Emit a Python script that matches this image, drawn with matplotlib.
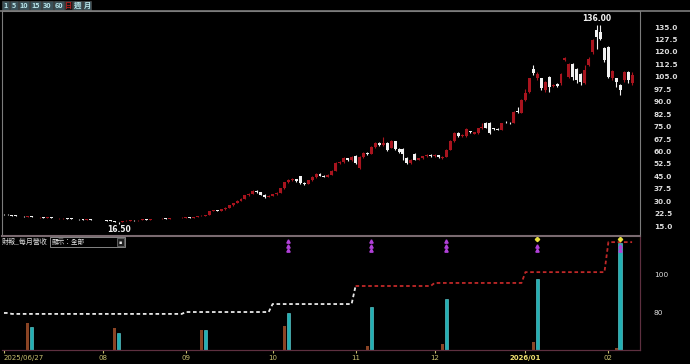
import numpy as np
import pandas as pd
import matplotlib
matplotlib.use('Agg')
import matplotlib.pyplot as plt
from matplotlib.patches import Rectangle

CJK = ['Noto Sans CJK TC', 'DejaVu Sans']

# daily candles (open / high / low / close)
opens = [22.3, 21.9, 21.5, 21.2, 20.9, 21.0, 20.7, 20.9, 20.6, 20.2,
         20.3, 20.0, 20.2, 19.9, 19.6, 19.6, 19.8, 19.5, 19.1, 19.2,
         19.0, 18.8, 19.0, 18.8, 18.5, 18.7, 18.5, 18.3, 18.0, 17.5,
         17.4, 17.9, 18.2, 18.5, 18.4, 18.7, 19.0, 18.8, 19.1, 19.3,
         19.2, 19.5, 19.4, 19.7, 19.9, 19.8, 20.0, 20.2, 20.1, 20.5,
         20.9, 21.3, 21.7, 24.0, 24.5, 24.2, 25.1, 25.9, 27.4, 28.9,
         30.2, 31.3, 33.7, 34.6, 36.1, 35.5, 33.8, 32.5, 33.2, 34.3,
         35.0, 37.9, 41.5, 42.6, 43.3, 45.0, 41.2, 40.3, 42.7, 44.5,
         46.4, 45.2, 44.6, 45.8, 48.5, 53.0, 53.6, 56.0, 54.8, 57.2,
         50.0, 56.6, 59.0, 58.4, 62.6, 65.0, 63.8, 65.0, 62.0, 66.2,
         61.5, 61.5, 56.0, 53.0, 58.4, 55.0, 55.8, 57.0, 57.8, 57.0,
         57.8, 56.0, 56.6, 60.8, 66.2, 71.0, 69.3, 69.5, 72.2, 70.8,
         71.0, 74.0, 77.0, 77.1, 74.0, 73.8, 73.0, 77.9, 77.3, 77.1,
         84.2, 83.2, 91.0, 96.0, 109.5, 104.0, 104.0, 97.0, 105.0, 99.5,
         100.5, 101.0, 115.0, 105.0, 113.0, 110.0, 107.0, 101.0, 112.0, 120.0,
         133.0, 132.0, 122.5, 123.0, 104.0, 104.0, 100.0, 103.0, 108.0, 101.0]
highs = [22.5, 22.0, 21.7, 21.4, 21.2, 21.1, 21.0, 21.0, 20.7, 20.5,
         20.4, 20.3, 20.3, 20.0, 19.9, 19.9, 19.9, 19.6, 19.4, 19.3,
         19.1, 19.2, 19.1, 18.9, 18.9, 18.8, 18.6, 18.4, 18.1, 17.6,
         18.0, 18.4, 18.6, 18.7, 18.9, 19.1, 19.1, 19.3, 19.5, 19.4,
         19.6, 19.7, 19.8, 20.1, 20.0, 20.2, 20.4, 20.3, 20.6, 21.0,
         21.5, 21.8, 24.3, 24.9, 24.8, 25.4, 26.2, 27.7, 29.2, 30.6,
         31.8, 34.0, 35.2, 36.5, 36.8, 35.8, 34.1, 33.6, 34.6, 35.4,
         38.2, 41.8, 43.2, 44.0, 43.6, 45.4, 41.8, 43.0, 44.9, 47.2,
         46.7, 45.6, 46.2, 48.9, 53.4, 54.2, 56.5, 56.3, 57.0, 58.0,
         57.0, 59.5, 59.6, 63.0, 65.6, 65.4, 68.5, 65.4, 66.8, 66.5,
         61.9, 62.0, 56.4, 55.4, 58.8, 56.3, 57.5, 58.3, 58.2, 58.2,
         58.0, 57.2, 61.2, 66.6, 71.5, 72.0, 70.4, 74.2, 72.6, 72.0,
         74.4, 77.4, 77.6, 77.5, 74.3, 74.1, 77.4, 78.3, 77.6, 84.2,
         86.5, 91.5, 97.5, 104.5, 112.0, 107.8, 104.5, 102.6, 105.6, 100.8,
         101.0, 107.5, 116.8, 113.5, 113.5, 110.5, 107.5, 112.0, 117.0, 128.0,
         136.0, 136.0, 123.0, 123.5, 109.0, 104.5, 100.5, 108.5, 108.5, 108.0]
lows = [21.8, 21.5, 21.2, 21.0, 20.8, 20.7, 20.6, 20.5, 20.3, 20.1,
        20.0, 19.9, 19.8, 19.6, 19.5, 19.5, 19.4, 19.2, 19.0, 18.9,
        18.7, 18.7, 18.6, 18.5, 18.4, 18.4, 18.1, 17.8, 17.4, 16.5,
        17.2, 17.8, 18.1, 18.2, 18.3, 18.6, 18.7, 18.7, 19.0, 19.0,
        19.1, 19.3, 19.3, 19.6, 19.6, 19.7, 19.9, 19.9, 20.0, 20.4,
        20.8, 21.1, 21.6, 23.8, 23.9, 24.0, 24.9, 25.7, 27.2, 28.7,
        30.0, 31.1, 33.4, 34.3, 35.0, 33.5, 32.2, 32.3, 33.0, 34.0,
        34.8, 37.6, 41.2, 42.3, 41.8, 40.5, 39.8, 40.1, 42.4, 44.2,
        44.9, 44.3, 44.4, 45.5, 48.3, 52.5, 53.3, 54.4, 54.5, 52.5,
        49.5, 56.3, 58.0, 58.2, 62.3, 63.3, 63.5, 60.4, 61.8, 61.0,
        59.0, 55.0, 52.5, 52.7, 54.7, 54.8, 55.5, 56.8, 56.6, 56.8,
        56.2, 55.5, 56.4, 60.6, 65.8, 69.0, 68.9, 68.7, 71.0, 70.4,
        70.8, 73.7, 73.9, 70.8, 72.9, 72.8, 72.8, 77.1, 76.4, 76.9,
        83.2, 83.0, 90.5, 95.5, 106.0, 103.0, 97.0, 96.0, 96.0, 99.0,
        99.0, 100.0, 114.5, 104.0, 103.0, 101.0, 100.0, 100.5, 111.5, 119.0,
        122.0, 127.0, 114.0, 104.0, 103.0, 99.0, 94.0, 102.0, 101.0, 100.0]
closes = [22.0, 21.6, 21.3, 21.1, 21.0, 20.8, 20.9, 20.6, 20.4, 20.3,
          20.1, 20.2, 19.9, 19.8, 19.7, 19.8, 19.5, 19.3, 19.2, 19.0,
          18.9, 19.0, 18.8, 18.6, 18.7, 18.5, 18.3, 18.0, 17.6, 17.3,
          17.8, 18.2, 18.5, 18.4, 18.7, 19.0, 18.8, 19.1, 19.3, 19.2,
          19.5, 19.4, 19.7, 19.9, 19.8, 20.0, 20.2, 20.1, 20.5, 20.9,
          21.3, 21.6, 24.0, 24.5, 24.2, 25.1, 25.9, 27.4, 28.9, 30.2,
          31.3, 33.7, 34.6, 36.1, 35.5, 33.8, 32.5, 33.2, 34.3, 35.0,
          37.9, 41.5, 42.6, 43.3, 42.1, 40.8, 40.3, 42.7, 44.5, 46.4,
          45.2, 44.6, 45.8, 48.5, 53.0, 53.6, 56.0, 54.8, 56.6, 52.9,
          56.6, 59.0, 58.4, 62.6, 65.0, 63.8, 65.0, 60.8, 66.2, 61.5,
          59.6, 58.4, 53.0, 55.0, 55.0, 55.8, 57.0, 57.8, 57.0, 57.8,
          56.6, 56.6, 60.8, 66.2, 71.0, 69.3, 69.8, 73.5, 71.5, 71.6,
          74.0, 74.6, 74.2, 71.2, 73.3, 73.2, 77.0, 77.5, 76.9, 83.8,
          83.6, 91.0, 95.5, 104.0, 107.1, 107.0, 98.0, 102.0, 99.0, 100.3,
          99.6, 107.0, 116.3, 113.0, 105.0, 103.0, 102.0, 109.0, 116.0, 127.0,
          129.0, 128.0, 115.0, 105.0, 108.5, 102.0, 97.0, 108.0, 103.0, 106.0]

# monthly revenue panel
line_months = ['2025-06', '2025-07', '2025-08', '2025-09', '2025-10',
               '2025-11', '2025-12', '2026-01', '2026-02']
line_values = [79.5, 79.0, 79.0, 80.0, 84.2, 93.7, 95.3, 101.0, 116.8]
bar_day = [6, 28, 50, 71, 92, 111, 134, 155]
bar_prev = [27, 22, 20, 24, 4, 6, 8, 2]
bar_curr = [23, 17, 20, 37, 43, 51, 71, 107]
arrow_day = [72, 93, 112]
star_day = [135, 156]

holidays = ['2025-10-06', '2025-10-10', '2026-01-01']
dates = pd.bdate_range('2025-06-27', '2026-02-10')
dates = dates[~dates.isin(pd.to_datetime(holidays))][:len(closes)]
n = len(closes)
x = np.arange(n)

W, H = 690, 364
fig = plt.figure(figsize=(W / 100, H / 100), dpi=100, facecolor='black')


def fx(px):
    return px / W


def fy(py):
    return 1 - py / H


ax = fig.add_axes([fx(2), fy(236), fx(638), 225 / H], facecolor='black')
ax2 = fig.add_axes([fx(2), fy(350), fx(638), 113 / H], facecolor='black')
ax3 = ax2.twinx()

red = '#a8141e'
white = '#f2f2f2'
o = np.array(opens)
c = np.array(closes)
up = c >= o
cols = np.where(up, red, white)
ax.vlines(x, lows, highs, colors=cols, lw=0.8, zorder=2)
body = np.maximum(np.abs(c - o), 0.35)
ax.bar(x, body, bottom=np.minimum(o, c), width=0.75, color=cols, zorder=3)

hi_i = int(np.argmax(highs))
lo_i = int(np.argmin(lows))
ax.text(hi_i, highs[hi_i] + 1.5, '%.2f' % highs[hi_i], color=white,
        fontsize=5.5, ha='center', va='bottom', fontweight='bold')
ax.text(lo_i, lows[lo_i] - 0.8, '%.2f' % lows[lo_i], color=white,
        fontsize=5.5, ha='center', va='top', fontweight='bold')

ax.set_xlim(-0.5, 161)
ax.set_ylim(9.0, 144.7)
ax.yaxis.tick_right()
ticks = np.arange(15, 136, 7.5)
ax.set_yticks(ticks)
ax.set_yticklabels(['%.1f' % t for t in ticks])
ax.tick_params(axis='y', length=0, pad=10, labelsize=5.3, labelcolor='#dcdcdc')
for t in ax.get_yticklabels():
    t.set_fontweight('bold')
ax.set_xticks([])
for s in ['top', 'right', 'left']:
    ax.spines[s].set_color('#7c7c7c')
ax.spines['bottom'].set_color('#7a6a70')
ax.spines['bottom'].set_linewidth(1.5)

# stepped monthly line
month_key = dates.strftime('%Y-%m')
lv = np.array([line_values[line_months.index(m)] for m in month_key])
nov = int(np.argmax(month_key == '2025-11'))
ax2.plot(x[:nov + 1], lv[:nov + 1], color='#e8e8e8', lw=1.3, ls=(0, (2, 1.5)), zorder=3)
ax2.plot(x[nov:], lv[nov:], color='#c02828', lw=1.3, ls=(0, (2, 1.5)), zorder=3)
ax2.set_xlim(-0.5, 161)
ax2.set_ylim(60, 119.5)
ax2.yaxis.tick_right()
ax2.set_yticks([80, 100])
ax2.set_yticklabels(['80', '100'])
ax2.tick_params(axis='y', length=0, pad=10, labelsize=5.3, labelcolor='#dcdcdc')

ax3.bar(np.array(bar_day), bar_prev, width=0.7, color='#8a4424', zorder=1)
ax3.bar(np.array(bar_day) + 0.95, bar_curr, width=0.8, color='#22b0b4',
        edgecolor='#6ad8dc', lw=0.4, zorder=1)
ax3.set_ylim(0, 113)
ax3.set_yticks([])
ax3.xaxis.set_visible(False)
ax3.set_zorder(ax2.get_zorder() - 1)
ax2.patch.set_visible(False)
ax3.patch.set_facecolor('black')
for a in (ax2, ax3):
    for s in ['top', 'left']:
        a.spines[s].set_visible(False)
    a.spines['right'].set_color('#5e3040')
    a.spines['bottom'].set_color('#5e3040')

ax2.plot(np.repeat(arrow_day, 3), [117.6, 115.0, 112.4] * len(arrow_day), ls='none',
         marker='^', ms=2.4, color='#b040d8', zorder=4)
ax2.plot(star_day, [118.2] * len(star_day), ls='none', marker='D', ms=2.2,
         color='#e8e040', zorder=4)
ax2.plot(np.repeat(star_day, 2), [115.0, 112.4] * len(star_day), ls='none',
         marker='^', ms=2.4, color='#b040d8', zorder=4)

# month ticks: first day, then each month start (the partial first month is skipped)
starts = [0] + [i for i in range(6, n) if dates[i].month != dates[i - 1].month]
labels = []
for i in starts:
    d = dates[i]
    if i == 0:
        labels.append(d.strftime('%Y/%m/%d'))
    elif d.month == 1:
        labels.append(d.strftime('%Y/%m'))
    else:
        labels.append(d.strftime('%m'))
ax2.set_xticks(starts)
ax2.set_xticklabels(labels)
ax2.tick_params(axis='x', length=2.5, pad=1, labelsize=5, color='#c8c070',
                labelcolor='#c8c070')
for t in ax2.get_xticklabels():
    if '/' in t.get_text() and len(t.get_text()) == 7:
        t.set_color('#f0e070')
        t.set_fontweight('bold')
ax2.get_xticklabels()[0].set_ha('left')

# toolbar buttons
buttons = [('1', 2, 9), ('5', 10, 18), ('10', 19, 29), ('15', 30, 41), ('30', 42, 53),
           ('60', 54, 64), ('日', 65, 72), ('週', 73, 82), ('月', 83, 91)]
for lab, x0, x1 in buttons:
    sel = lab == '日'
    fig.patches.append(Rectangle((fx(x0), fy(10)), fx(x1 - x0), 9 / H,
                                 transform=fig.transFigure,
                                 facecolor='#151515' if sel else '#3a5058',
                                 edgecolor='#555555', lw=0.4))
    fig.text(fx((x0 + x1) / 2), fy(5.5), lab, ha='center', va='center', fontsize=5.2,
             color='#b02020' if sel else '#b8e4e8', family=CJK, fontweight='bold')
fig.add_artist(plt.Line2D([0, 1], [fy(11), fy(11)], color='#7c7c7c', lw=1.2))

fig.text(fx(2), fy(242), '財報_每月營收', fontsize=5, color='#dcdcdc', family=CJK,
         va='center', ha='left')
fig.patches.append(Rectangle((fx(50), fy(247)), fx(75), 10 / H, transform=fig.transFigure,
                             facecolor='black', edgecolor='#9a9a9a', lw=0.6, zorder=5))
fig.text(fx(52), fy(242), '顯示：全部', fontsize=4.8, color='#e8e8e8', family=CJK,
         va='center', ha='left', zorder=6)
fig.patches.append(Rectangle((fx(117), fy(246)), fx(7), 8 / H, transform=fig.transFigure,
                             facecolor='#202020', edgecolor='#9a9a9a', lw=0.4, zorder=6))
fig.text(fx(120.5), fy(242), '▪', fontsize=3.5, color='#e8e8e8', va='center',
         ha='center', zorder=7)

fig.savefig('out.png', dpi=100, facecolor='black')
